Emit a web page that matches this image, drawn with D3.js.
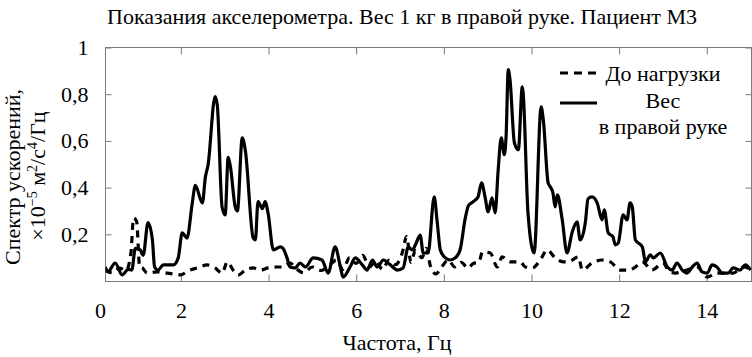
<!DOCTYPE html>
<html>
<head>
<meta charset="utf-8">
<script src="https://cdn.jsdelivr.net/npm/d3@7"></script>
<style>
  body { margin: 0; background: #fff; }
  text { font-family: "Liberation Serif", "DejaVu Serif", serif; fill: #000; }
</style>
</head>
<body>
<script>
// data: frequency (Hz) and spectrum value
var freqSolid = [0.27,0.34,0.50,0.66,0.80,0.88,0.96,1.07,1.14,1.25,1.35,1.40,1.48,1.60,1.83,1.94,2.03,2.14,2.26,2.33,2.49,2.56,2.62,2.78,2.83,2.94,3.01,3.08,3.13,3.24,3.29,3.40,3.47,3.65,3.70,3.76,3.86,3.92,3.99,4.11,4.27,4.33,4.42,4.49,4.61,4.72,4.84,5.02,5.22,5.36,5.52,5.64,5.70,5.86,5.98,6.14,6.25,6.37,6.48,6.62,6.78,6.94,7.07,7.19,7.28,7.35,7.46,7.53,7.64,7.78,7.85,7.92,8.03,8.15,8.26,8.37,8.49,8.56,8.67,8.78,8.86,8.94,9.01,9.10,9.17,9.24,9.31,9.38,9.42,9.47,9.51,9.61,9.70,9.79,9.81,9.92,10.06,10.22,10.27,10.38,10.43,10.49,10.54,10.59,10.70,10.81,10.93,11.04,11.11,11.23,11.29,11.38,11.50,11.61,11.66,11.75,11.86,11.91,11.98,12.09,12.18,12.25,12.30,12.37,12.53,12.60,12.71,12.78,12.94,13.10,13.21,13.32,13.44,13.55,13.67,13.78,13.89,14.01,14.12,14.23,14.35,14.49,14.60,14.76,14.88,15.00];
var valSolid = [0.060,0.040,0.077,0.026,0.050,0.047,0.140,0.133,0.110,0.250,0.176,0.060,0.047,0.069,0.069,0.100,0.206,0.184,0.334,0.410,0.334,0.446,0.497,0.790,0.755,0.317,0.283,0.530,0.490,0.317,0.300,0.613,0.560,0.184,0.176,0.340,0.310,0.340,0.290,0.133,0.146,0.140,0.100,0.060,0.056,0.077,0.060,0.099,0.090,0.034,0.146,0.060,0.017,0.060,0.099,0.069,0.047,0.090,0.060,0.090,0.069,0.047,0.056,0.146,0.133,0.154,0.197,0.120,0.120,0.360,0.250,0.133,0.100,0.090,0.099,0.133,0.270,0.322,0.340,0.360,0.420,0.360,0.296,0.356,0.292,0.476,0.613,0.541,0.618,0.905,0.862,0.592,0.562,0.832,0.806,0.292,0.120,0.746,0.690,0.420,0.403,0.377,0.317,0.369,0.264,0.120,0.210,0.253,0.176,0.253,0.352,0.360,0.334,0.262,0.305,0.206,0.189,0.155,0.163,0.283,0.262,0.335,0.317,0.176,0.146,0.082,0.112,0.099,0.120,0.060,0.047,0.077,0.047,0.034,0.060,0.077,0.039,0.034,0.069,0.060,0.034,0.034,0.056,0.047,0.069,0.047];

var freqDashed = [0.27,0.45,0.60,0.75,0.86,0.92,0.99,1.06,1.12,1.23,1.46,1.69,1.98,2.21,2.37,2.60,2.78,2.94,3.06,3.19,3.31,3.47,3.65,3.81,3.99,4.20,4.33,4.49,4.65,4.80,5.00,5.20,5.40,5.55,5.70,5.85,6.00,6.15,6.30,6.45,6.60,6.75,6.90,7.05,7.15,7.25,7.35,7.50,7.60,7.70,7.82,7.95,8.10,8.25,8.40,8.55,8.67,8.80,8.88,9.06,9.22,9.33,9.51,9.74,9.86,10.02,10.20,10.36,10.54,10.72,10.84,11.07,11.16,11.38,11.61,11.80,12.02,12.25,12.37,12.53,12.75,13.00,13.12,13.28,13.55,13.78,14.01,14.23,14.60,14.83,15.00];
var valDashed = [0.045,0.035,0.055,0.045,0.120,0.270,0.255,0.060,0.056,0.034,0.039,0.034,0.026,0.047,0.056,0.069,0.056,0.034,0.082,0.047,0.026,0.047,0.056,0.047,0.056,0.060,0.060,0.077,0.050,0.035,0.060,0.045,0.070,0.090,0.050,0.100,0.075,0.110,0.060,0.085,0.050,0.090,0.070,0.120,0.190,0.080,0.130,0.100,0.140,0.060,0.030,0.060,0.090,0.060,0.080,0.055,0.075,0.080,0.124,0.120,0.060,0.103,0.082,0.082,0.060,0.056,0.090,0.133,0.099,0.082,0.082,0.103,0.047,0.077,0.090,0.082,0.047,0.047,0.060,0.082,0.047,0.077,0.047,0.034,0.047,0.060,0.017,0.034,0.034,0.060,0.050];

var xTicks = [2, 4, 6, 8, 10, 12, 14];
var yTicks = [0.2, 0.4, 0.6, 0.8, 1];
var seriesNames = ["До нагрузки", "Вес", "в правой руке"];

var w = 752, h = 357;
var pLeft = 105.5, pRight = 751.5, pTop = 47.5, pBottom = 281.5;
var frameColor = "#7a7a7a";

var svg = d3.select("body").append("svg")
    .attr("width", w)
    .attr("height", h);

var xScale = d3.scaleLinear().domain([0.28, 15.02]).range([pLeft, pRight]);
var yScale = d3.scaleLinear().domain([0, 1]).range([pBottom - 0.5, pTop]);

// frame
svg.append("rect")
    .attr("x", pLeft).attr("y", pTop)
    .attr("width", pRight - pLeft).attr("height", pBottom - pTop)
    .attr("fill", "none").attr("stroke", frameColor).attr("stroke-width", 1);

// axes with inward ticks
var fmt = function(d) { return d === 1 ? "1" : String(d).replace(".", ","); };

var gx = svg.append("g").attr("transform", "translate(0," + pBottom + ")")
    .call(d3.axisBottom(xScale).tickValues(xTicks).tickSizeInner(-7).tickSizeOuter(0).tickPadding(21));
svg.append("g").attr("transform", "translate(0," + pTop + ")")
    .call(d3.axisTop(xScale).tickValues(xTicks).tickSizeInner(-7).tickSizeOuter(0).tickFormat(""));
var gy = svg.append("g").attr("transform", "translate(" + pLeft + ",0)")
    .call(d3.axisLeft(yScale).tickValues(yTicks).tickSizeInner(-6).tickSizeOuter(0).tickPadding(17).tickFormat(fmt));
svg.append("g").attr("transform", "translate(" + pRight + ",0)")
    .call(d3.axisRight(yScale).tickValues(yTicks).tickSizeInner(-6).tickSizeOuter(0).tickFormat(""));

svg.selectAll(".domain").remove();
svg.selectAll(".tick line").attr("stroke", frameColor);
svg.selectAll(".tick text").attr("font-size", "22px").attr("font-family", "Liberation Serif");
gy.selectAll(".tick text").attr("dy", "0.32em");

// the "0" under the left edge
svg.append("text")
    .attr("x", pLeft - 5).attr("y", 318)
    .attr("text-anchor", "middle").attr("font-size", "22px")
    .text("0");

// lines
svg.append("clipPath").attr("id", "plot")
    .append("rect").attr("x", pLeft).attr("y", pTop).attr("width", pRight - pLeft).attr("height", pBottom - pTop);

var line = d3.line()
    .x(function(d) { return xScale(d[0]); })
    .y(function(d) { return yScale(d[1]); })
    .curve(d3.curveMonotoneX);

var solid = d3.zip(freqSolid, valSolid);
var dashed = d3.zip(freqDashed, valDashed);

svg.append("path")
    .datum(solid)
    .attr("clip-path", "url(#plot)")
    .attr("d", line)
    .attr("fill", "none").attr("stroke", "#000").attr("stroke-width", 3.2)
    .attr("stroke-linejoin", "round");

svg.append("path")
    .datum(dashed)
    .attr("clip-path", "url(#plot)")
    .attr("d", line)
    .attr("fill", "none").attr("stroke", "#000").attr("stroke-width", 3.2)
    .attr("stroke-dasharray", "7,6");

// legend
svg.append("line").attr("x1", 560).attr("x2", 597).attr("y1", 73).attr("y2", 73)
    .attr("stroke", "#000").attr("stroke-width", 3.2).attr("stroke-dasharray", "8,6");
svg.append("line").attr("x1", 560).attr("x2", 597).attr("y1", 103).attr("y2", 103)
    .attr("stroke", "#000").attr("stroke-width", 3.2);
svg.selectAll(".leg")
    .data(seriesNames)
    .enter()
    .append("text")
    .attr("class", "leg")
    .attr("x", 663)
    .attr("y", function(d, i) { return 81 + i * 26.5; })
    .attr("text-anchor", "middle")
    .attr("font-size", "22px")
    .text(function(d) { return d; });

// title
svg.append("text")
    .attr("x", 402).attr("y", 24)
    .attr("text-anchor", "middle").attr("font-size", "22px")
    .text("Показания акселерометра. Вес 1 кг в правой руке. Пациент М3");

// x label
svg.append("text")
    .attr("x", 397).attr("y", 350)
    .attr("text-anchor", "middle").attr("font-size", "22px")
    .text("Частота, Гц");

// y label, two lines
svg.append("text")
    .attr("transform", "translate(20,177) rotate(-90)")
    .attr("text-anchor", "middle").attr("font-size", "22px")
    .text("Спектр ускорений,");
var yl2 = svg.append("text")
    .attr("transform", "translate(45,176) rotate(-90)")
    .attr("text-anchor", "middle").attr("font-size", "22px");
yl2.append("tspan").text("×10");
yl2.append("tspan").attr("font-size", "14px").attr("dy", "-8").text("−5");
yl2.append("tspan").attr("dy", "8").text(" м");
yl2.append("tspan").attr("font-size", "14px").attr("dy", "-8").text("2");
yl2.append("tspan").attr("dy", "8").text("/с");
yl2.append("tspan").attr("font-size", "14px").attr("dy", "-8").text("4");
yl2.append("tspan").attr("dy", "8").text("/Гц");
</script>
</body>
</html>
